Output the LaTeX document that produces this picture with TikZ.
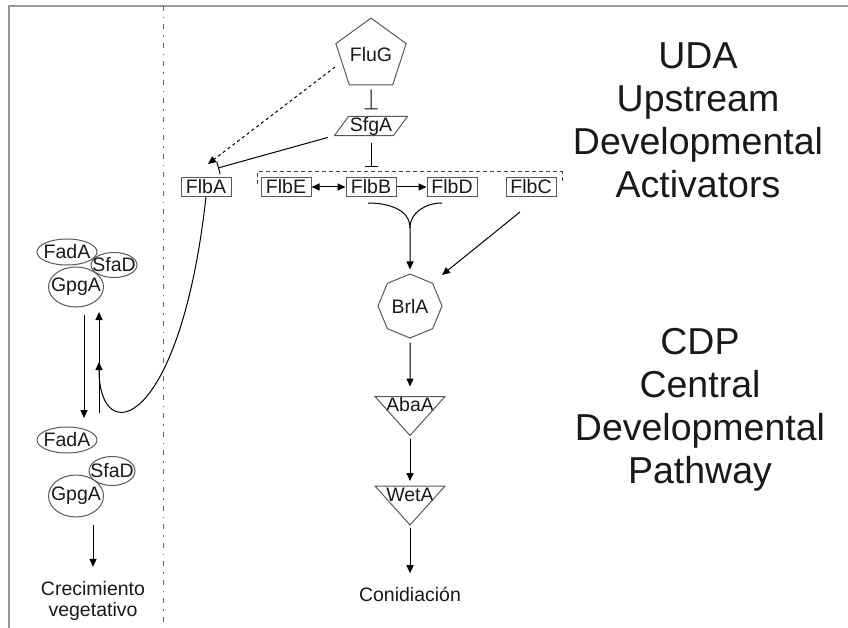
\documentclass[tikz,border=0pt]{standalone}
\usepackage{fontspec}
\setmainfont{Liberation Sans}
\usetikzlibrary{arrows.meta,shapes.geometric}
\begin{document}
\begin{tikzpicture}[x=1pt,y=-1pt,
  font=\fontsize{19.5}{21}\selectfont,
  line width=1pt,
  every node/.style={align=center,text=black!90},
  outl/.style={draw=black!65},
  gene/.style={outl,rectangle,minimum width=50pt,minimum height=19pt,inner sep=0pt},
  prot/.style={outl,ellipse,inner xsep=-5.5pt,inner ysep=0pt},
  tri/.style={minimum width=69pt,inner sep=0pt,text height=14.5pt,text depth=23.5pt},
  act/.style={-{Triangle[length=8pt,width=7pt]}},
  both/.style={{Triangle[length=8pt,width=7pt]}-{Triangle[length=8pt,width=7pt]}},
  inh/.style={-{Bar[width=13pt]}},
  big/.style={font=\fontsize{37.5}{43}\selectfont}]

\useasboundingbox (0,0) rectangle (848,628);

%draw frame and divider
    \draw[black!40,line width=2pt] (9,628) -- (9,6) -- (848,6);
    \draw[black!60,dash pattern=on 5pt off 6pt on 1.5pt off 6pt] (163,6) -- (163,628);

%upstream activators
    \node[outl,regular polygon,regular polygon sides=5,minimum size=59pt,inner sep=0pt] (flug) at (371,55) {FluG};
    \node[minimum width=72pt,minimum height=18pt,inner sep=0pt] (sfga) at (371,126) {SfgA};
    \draw[outl] ([xshift=14pt]sfga.north west) -- (sfga.north east) -- ([xshift=-14pt]sfga.south east) -- (sfga.south west) -- cycle;
    \foreach \name/\lab/\x in {flba/FlbA/206, flbe/FlbE/286, flbb/FlbB/371, flbd/FlbD/452, flbc/FlbC/531}
    \node[gene] (\name) at (\x,187) {\lab};
    \draw[black!75,dash pattern=on 4pt off 3pt] (257,184) -- (257,172) -- (562,172) -- (562,184);
    \coordinate (brk) at (371,172);

%central pathway
    \node[outl,regular polygon,regular polygon sides=8,shape border rotate=22.5,minimum size=64pt,inner sep=0pt] (brla) at (410,306) {BrlA};
    \node[tri] (abaa) at (410,416) {AbaA};
    \node[tri] (weta) at (410,505.5) {WetA};
    \foreach \n in {abaa,weta}
    \draw[outl] (\n.north west) -- (\n.north east) -- (\n.south) -- cycle;
    \node[inner sep=0pt] (coni) at (410,594) {Conidiación};

%G protein complex
    \node[prot,minimum width=60pt,minimum height=26pt] (fada1) at (67,252) {FadA};
    \node[prot,minimum width=46pt,minimum height=25pt] (sfad1) at (114,265) {SfaD};
    \node[prot,minimum width=55pt,minimum height=40pt] (gpga1) at (76,287) {GpgA};
    \node[prot,minimum width=60pt,minimum height=26pt] (fada2) at (67,440) {FadA};
    \node[prot,minimum width=46pt,minimum height=29pt] (sfad2) at (112,471) {SfaD};
    \node[prot,minimum width=55pt,minimum height=42pt] (gpga2) at (76,496) {GpgA};
    \node[inner sep=0pt] (crec) at (93,601) {Crecimiento\\vegetativo};

%titles
    \node[big] (uda) at (698,120.5) {UDA\\Upstream\\Developmental\\Activators};
    \node[big] (cdp) at (700,410) {CDP\\Central\\Developmental\\Pathway};

%draw regulation
    \draw[inh,shorten <=4pt,shorten >=7pt] (flug) -- (sfga);
    \draw[inh,shorten <=7pt,shorten >=5pt] (sfga) -- (brk);
    \draw[act,dashed] ([shift={(-36pt,-12pt)}]flug.center) -- ([shift={(2pt,13pt)}]flba.north);
    \draw[inh,shorten <=7pt] (sfga.south west) -- ([shift={(12pt,9pt)}]flba.north);
    \draw[both] (flbe) -- (flbb);
    \draw[act] (flbb) -- (flbd);
    \coordinate (jn) at (410,228);
    \draw ([shift={(-3pt,-6pt)}]flbb.south) to[out=0,in=90] (jn);
    \draw ([shift={(-10pt,-6pt)}]flbd.south) to[out=180,in=90] (jn);
    \draw[act,shorten >=4pt] (jn) -- (brla);
    \draw[act] ([shift={(-11pt,-15pt)}]flbc.south) -- ([shift={(32pt,31pt)}]brla.center);
    \draw[act,shorten <=4pt,shorten >=10pt] (brla) -- (abaa);
    \draw[act,shorten <=3pt,shorten >=5pt] (abaa) -- (weta);
    \draw[act,shorten <=3pt,shorten >=13pt] (weta) -- (coni);

%draw G protein cycle
    \coordinate (dtop) at (84,315);
    \coordinate (dbot) at (84,418);
    \coordinate (ubot) at (99,413);
    \coordinate (utop) at (99,312);
    \coordinate (umid) at (99,362);
    \draw[act] (dtop) -- (dbot);
    \draw[act] (ubot) -- (utop);
    \draw[act] (flba.south) .. controls (180,430) and (99,450) .. (umid);
    \draw[act,shorten <=7pt,shorten >=14pt] (gpga2.south -| crec) -- (crec);

\end{tikzpicture}
\end{document}
